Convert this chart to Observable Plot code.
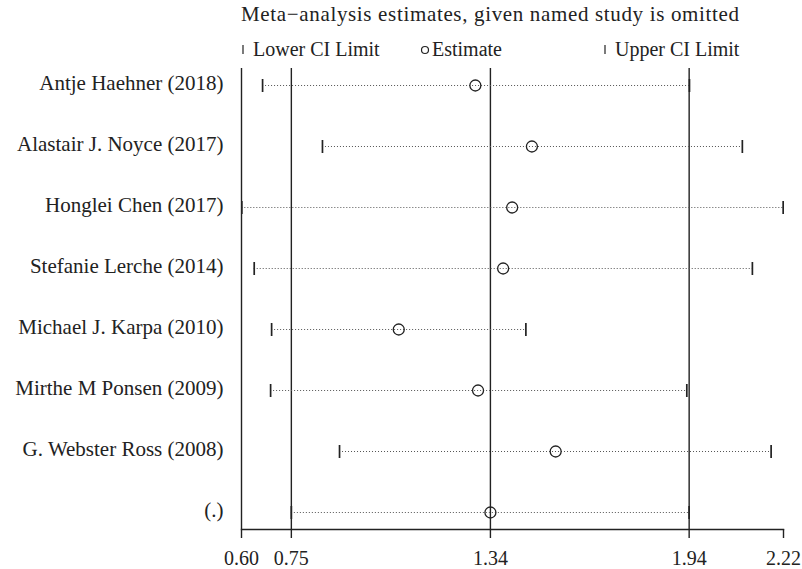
<!DOCTYPE html>
<html><head><meta charset="utf-8">
<script src="https://cdn.jsdelivr.net/npm/d3@7"></script>
<script src="https://cdn.jsdelivr.net/npm/@observablehq/plot@0.6"></script>
<style>body{margin:0;background:#fff}</style>
</head><body><div id="chart"></div>
<script>
const studies = ["Antje Haehner (2018)", "Alastair J. Noyce (2017)", "Honglei Chen (2017)", "Stefanie Lerche (2014)", "Michael J. Karpa (2010)", "Mirthe M Ponsen (2009)", "G. Webster Ross (2008)", "(.)"];
const lower =    [0.663, 0.842, 0.601, 0.638, 0.690, 0.687, 0.893, 0.749];
const estimate = [1.299, 1.468, 1.409, 1.382, 1.070, 1.307, 1.539, 1.344];
const upper =    [1.939, 2.097, 2.219, 2.127, 1.450, 1.931, 2.183, 1.938];
const xTicks = [0.60, 0.749, 1.344, 1.938, 2.22];
const refLines = [0.60, 0.749, 1.344, 1.938];
const title = "Meta\u2212analysis estimates, given named study is omitted";
const legendLabels = ["Lower CI Limit", "Estimate", "Upper CI Limit"];

const rows = studies.map((s, i) => ({study: s, lower: lower[i], estimate: estimate[i], upper: upper[i]}));
const ink = "#222";
const font = "'Liberation Serif', 'DejaVu Serif', serif";
const capSymbol = {draw(ctx) { ctx.moveTo(0, -6.5); ctx.lineTo(0, 6.5); }};

const plot = Plot.plot({
  width: 802, height: 569,
  marginTop: 68, marginBottom: 40, marginLeft: 241, marginRight: 19,
  style: {fontFamily: font, fontSize: "20px", color: ink, background: "#fff"},
  x: {domain: [0.60, 2.22]},
  y: {type: "point", domain: studies, padding: 0.25},
  marks: [
    Plot.ruleX(refLines, {stroke: ink, strokeWidth: 1.4}),
    Plot.frame({anchor: "bottom", stroke: ink, strokeWidth: 1.4}),
    Plot.ruleY(rows, {y: "study", x1: "lower", x2: "upper", stroke: "#555", strokeWidth: 1, strokeDasharray: "1,2"}),
    Plot.dot(rows, {x: "lower", y: "study", symbol: capSymbol, stroke: ink, strokeWidth: 1.7, fill: "none"}),
    Plot.dot(rows, {x: "upper", y: "study", symbol: capSymbol, stroke: ink, strokeWidth: 1.7, fill: "none"}),
    Plot.dot(rows, {x: "estimate", y: "study", r: 5.5, stroke: ink, strokeWidth: 1.3, fill: "none"}),
    Plot.axisX({ticks: xTicks, tickFormat: d3.format(".2f"), tickSize: 9, tickPadding: 12, fontSize: 20, label: null, stroke: ink, strokeWidth: 1.4}),
    Plot.axisY({tickSize: 0, tickPadding: 18, fontSize: 21, label: null, dy: -2})
  ]
});

const svg = d3.select(plot);
const g = svg.append("g").attr("font-family", font).attr("fill", ink).attr("text-anchor", "start");
g.append("text").attr("x", 241).attr("y", 21).attr("font-size", 21).attr("textLength", 498).attr("lengthAdjust", "spacing").text(title);
// legend
g.append("line").attr("x1", 243).attr("x2", 243).attr("y1", 45).attr("y2", 54).attr("stroke", ink).attr("stroke-width", 1.2);
g.append("text").attr("x", 253).attr("y", 56).attr("font-size", 20).text(legendLabels[0]);
g.append("circle").attr("cx", 425).attr("cy", 50).attr("r", 3.5).attr("fill", "none").attr("stroke", ink).attr("stroke-width", 1.2);
g.append("text").attr("x", 432).attr("y", 56).attr("font-size", 20).text(legendLabels[1]);
g.append("line").attr("x1", 605).attr("x2", 605).attr("y1", 45).attr("y2", 54).attr("stroke", ink).attr("stroke-width", 1.2);
g.append("text").attr("x", 615).attr("y", 56).attr("font-size", 20).text(legendLabels[2]);

document.getElementById("chart").appendChild(plot);
</script>
</body></html>
